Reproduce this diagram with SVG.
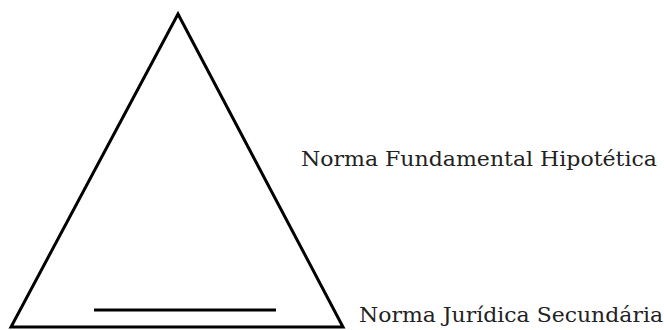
<svg xmlns="http://www.w3.org/2000/svg" width="664" height="330" viewBox="0 0 664 330">
<style>
.s{fill:none;stroke:#000;stroke-width:3;stroke-linejoin:miter}
.t{font-family:"DejaVu Serif","Liberation Serif",serif;font-size:20px;fill:#222}
</style>
<rect width="664" height="330" fill="#fff"/>
<g id="triangle"><polygon class="s" points="178,14 11,327 343,327"/></g>
<g id="line"><line class="s" x1="94" y1="310" x2="276" y2="310" stroke-width="4"/></g>
<g id="label1"><text class="t" x="301" y="166" textLength="356" lengthAdjust="spacingAndGlyphs">Norma Fundamental Hipotética</text></g>
<g id="label2"><text class="t" x="359" y="322" textLength="304" lengthAdjust="spacingAndGlyphs">Norma Jurídica Secundária</text></g>
</svg>
